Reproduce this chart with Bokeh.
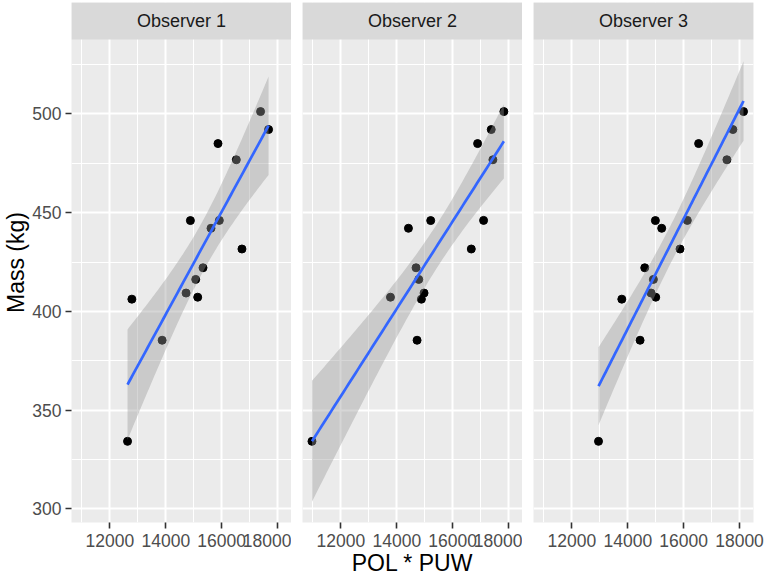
import numpy as np
from bokeh.plotting import figure
from bokeh.layouts import row
from bokeh.models import FixedTicker, BoxAnnotation, Label, Range1d
from bokeh.embed import file_html
from bokeh.resources import INLINE

# ---- data ----
observers = ["Observer 1", "Observer 2", "Observer 3"]
mass = [501.2, 492.1, 485.0, 476.8, 446.0, 446.1, 442.1, 431.6, 422.1, 416.2,
        409.3, 407.2, 406.2, 385.4, 334.2]
pol_puw_obs1 = [17393, 17679, 15869, 16524, 14881, 15917, 15619, 16726, 15333, 15071,
                14726, 15143, 12786, 13869, 12631]
pol_puw_obs2 = [17833, 17381, 16893, 17440, 15214, 17107, 14417, 16667, 14690, 14786,
                14976, 13774, 14881, 14726, 10964]
pol_puw_obs3 = [18143, 17762, 16536, 17548, 14988, 16131, 15214, 15869, 14607, 14917,
                14833, 15000, 13786, 14440, 12952]
x_ticks = [12000, 14000, 16000, 18000]
x_minor = [11000, 13000, 15000, 17000]
y_ticks = [300, 350, 400, 450, 500]
y_minor = [325, 375, 425, 475, 525]

# ---- layout constants ----
X_LO, X_HI = 10625, 18500
Y_LO, Y_HI = 293.1, 537.7
FRAME_W = 220
PANEL_H = 483
STRIP_H = 37
Y_END = Y_HI + (Y_HI - Y_LO) * STRIP_H / PANEL_H
T975 = 2.160369  # t quantile, df = 13
FONT = "Liberation Sans"


def smooth(x, y, n=80):
    x = np.asarray(x, float)
    y = np.asarray(y, float)
    b, a = np.polyfit(x, y, 1)
    resid = y - (a + b * x)
    s = np.sqrt(np.sum(resid ** 2) / (len(x) - 2))
    xs = np.linspace(x.min(), x.max(), n)
    fit = a + b * xs
    se = s * np.sqrt(1 / len(x) + (xs - x.mean()) ** 2 / np.sum((x - x.mean()) ** 2))
    return xs, fit, fit - T975 * se, fit + T975 * se


def panel(i, xvals):
    first = i == 0
    p = figure(frame_width=FRAME_W, frame_height=PANEL_H + STRIP_H,
               x_range=Range1d(X_LO, X_HI), y_range=Range1d(Y_LO, Y_END),
               output_backend="svg", toolbar_location=None,
               min_border_left=0 if first else 11, min_border_right=0 if i < 2 else 14,
               min_border_top=2, min_border_bottom=55)
    p.outline_line_color = None
    p.background_fill_color = "#EBEBEB"
    p.border_fill_color = "white"

    xt = FixedTicker(ticks=x_ticks, minor_ticks=x_minor)
    yt = FixedTicker(ticks=y_ticks, minor_ticks=y_minor)
    p.xaxis.ticker = xt
    p.yaxis.ticker = yt
    p.xgrid.ticker = xt
    p.ygrid.ticker = yt
    for g in (p.xgrid, p.ygrid):
        g.grid_line_color = "white"
        g.grid_line_width = 2
        g.minor_grid_line_color = "white"
        g.minor_grid_line_width = 1

    for ax in (p.xaxis, p.yaxis):
        ax.axis_line_color = None
        ax.major_tick_line_color = "#333333"
        ax.major_tick_line_width = 1.6
        ax.major_tick_out = 6
        ax.major_tick_in = 0
        ax.minor_tick_line_color = None
        ax.major_label_text_font = FONT
        ax.major_label_text_font_size = "17.5px"
        ax.major_label_text_color = "#4D4D4D"
        ax.axis_label_text_font = FONT
        ax.axis_label_text_font_size = "23px"
        ax.axis_label_text_font_style = "normal"
        ax.axis_label_text_color = "black"
    p.xaxis.major_label_standoff = 5
    p.yaxis.major_label_standoff = 4

    if first:
        p.yaxis.axis_label = "Mass (kg)"
        p.yaxis.axis_label_standoff = 0
    else:
        p.yaxis.visible = False
    if i == 1:
        p.xaxis.axis_label = "POL * PUW"
        p.xaxis.axis_label_standoff = 0

    p.scatter(xvals, mass, size=8, color="black")
    xs, fit, lo, hi = smooth(xvals, mass)
    p.varea(x=xs, y1=lo, y2=hi, fill_color="#999999", fill_alpha=0.4)
    p.line(xs, fit, line_color="#3366FF", line_width=2.7)

    p.add_layout(BoxAnnotation(bottom=Y_HI, fill_color="#D9D9D9", fill_alpha=1,
                               line_alpha=0, level="overlay"))
    p.add_layout(Label(x=(X_LO + X_HI) / 2, y=(Y_HI + Y_END) / 2, text=observers[i],
                       text_align="center", text_baseline="middle",
                       text_font=FONT, text_font_size="18px", text_color="#1A1A1A",
                       level="overlay"))
    return p


figs = [panel(i, xv) for i, xv in enumerate([pol_puw_obs1, pol_puw_obs2, pol_puw_obs3])]
layout = row(*figs)
open("out.html", "w").write(file_html(layout, INLINE))
